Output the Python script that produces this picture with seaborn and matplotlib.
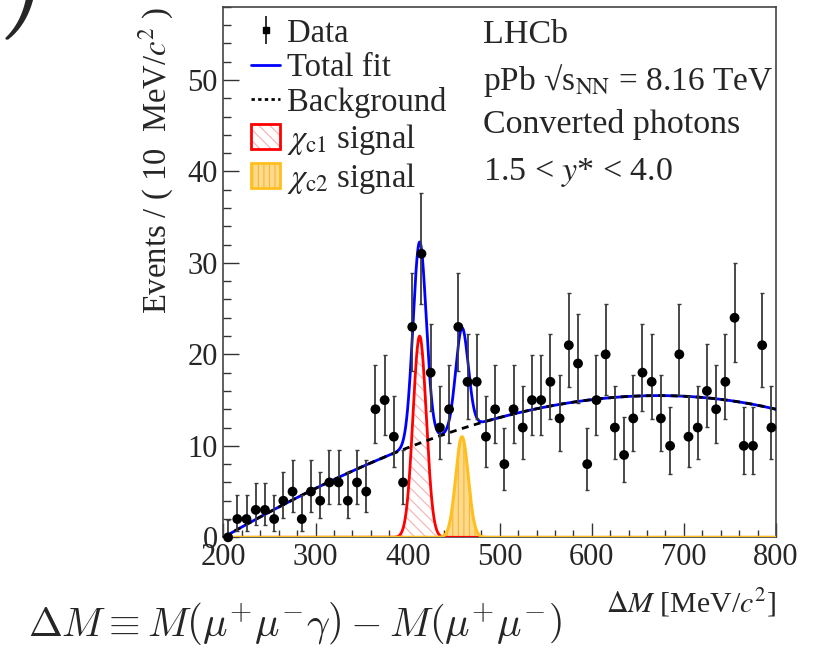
import numpy as np
import pandas as pd
import matplotlib
matplotlib.use("Agg")
import matplotlib.pyplot as plt
import seaborn as sns
from matplotlib.lines import Line2D
from matplotlib.patches import Patch
from matplotlib.legend_handler import HandlerTuple
from matplotlib.ticker import MultipleLocator

# ---------------- data ----------------
BIN_LOW = 200          # MeV/c^2
BIN_WIDTH = 10         # MeV/c^2
counts = [0, 2, 2, 3, 3, 2, 4, 5, 2, 5,
          4, 6, 6, 4, 6, 5, 14, 15, 11, 6,
          23, 31, 18, 12, 14, 23, 17, 17, 11, 14,
          8, 14, 12, 15, 15, 17, 13, 21, 19, 8,
          15, 20, 12, 9, 13, 18, 17, 13, 10, 20,
          11, 12, 16, 14, 17, 24, 10, 10, 21, 12]

# fit model parameters
bkg_coef = [5.73, -0.343, -0.0372]     # powers 1,2,3 of (dM-200)/100
chic1_mean, chic1_sigma, chic1_peak = 413.0, 7.2, 22.0
chic2_mean, chic2_sigma, chic2_peak = 459.0, 6.8, 11.0

x_ticks = [200, 300, 400, 500, 600, 700, 800]
y_ticks = [0, 10, 20, 30, 40, 50]

legend_labels = ["Data", "Total fit", "Background",
                 r"$\chi_{\rm c1}$ signal", r"$\chi_{\rm c2}$ signal"]
info_lines = ["LHCb",
              r"pPb √s$_{\mathrm{NN}}$ = 8.16 TeV",
              "Converted photons",
              r"1.5 < $y$* < 4.0"]

# ---------------- derived ----------------
n = np.array(counts, dtype=float)
centers = BIN_LOW + BIN_WIDTH * (np.arange(len(n)) + 0.5)
err_lo = np.where(n > 0, np.sqrt(np.clip(n - 0.25, 0, None)), 0.0)
err_hi = np.sqrt(n + 0.75) + 1.0
df = pd.DataFrame({"dm": centers, "n": n})

xf = np.linspace(200, 800, 1201)
u = (xf - 200) / 100.0
bkg = bkg_coef[0] * u + bkg_coef[1] * u ** 2 + bkg_coef[2] * u ** 3
s1 = chic1_peak * np.exp(-0.5 * ((xf - chic1_mean) / chic1_sigma) ** 2)
s2 = chic2_peak * np.exp(-0.5 * ((xf - chic2_mean) / chic2_sigma) ** 2)
fit = pd.DataFrame({"dm": xf, "bkg": bkg, "c1": s1, "c2": s2,
                    "total": bkg + s1 + s2})

# ---------------- style ----------------
sns.set_theme(style="ticks")
plt.rcParams["font.family"] = ["Liberation Serif", "DejaVu Serif"]
plt.rcParams["mathtext.fontset"] = "stix"
plt.rcParams["hatch.linewidth"] = 0.8

fig = plt.figure(figsize=(8.25, 6.48), dpi=100)
ax = fig.add_axes([0.2709, 0.1708, 0.6697, 0.8188])

RED = "#ff0000"
ORANGE = "#ffbf1f"

# signal fills
ax.fill_between(xf, s1, facecolor="white", edgecolor="#f7b0b0",
                hatch="\\\\\\", lw=0, zorder=2)
ax.fill_between(xf, s2, facecolor="#fdd98a", edgecolor="#f3b640",
                hatch="|||", lw=0, zorder=2.1)
sns.lineplot(data=fit, x="dm", y="c1", color=RED, lw=2.0, ax=ax,
             estimator=None, sort=False, zorder=3)
sns.lineplot(data=fit, x="dm", y="c2", color=ORANGE, lw=2.2, ax=ax,
             estimator=None, sort=False, zorder=3.2)
sns.lineplot(data=fit, x="dm", y="total", color="#0000ff", lw=2.0, ax=ax,
             estimator=None, sort=False, zorder=4)
sns.lineplot(data=fit, x="dm", y="bkg", color="black", lw=2.0, ax=ax,
             estimator=None, sort=False, zorder=4.5,
             linestyle=(0, (2.5, 2.0)))

ax.errorbar(centers, n, yerr=[err_lo, err_hi], fmt="none",
            ecolor="#3a3a3a", elinewidth=1.3, capsize=1.6, capthick=1.0,
            zorder=5)
sns.scatterplot(data=df, x="dm", y="n", color="black", s=50,
                edgecolor="none", ax=ax, zorder=6, clip_on=False)

# axes
ax.set_xlim(200, 800)
ax.set_ylim(0, 58.0)
ax.set_xticks(x_ticks)
ax.set_yticks(y_ticks)
ax.xaxis.set_minor_locator(MultipleLocator(20))
ax.yaxis.set_minor_locator(MultipleLocator(2))
ax.tick_params(axis="both", which="both", direction="in", top=False,
               right=False, color="#333333", width=1.0)
ax.tick_params(axis="x", which="major", length=10, pad=4, labelsize=22)
ax.tick_params(axis="x", which="minor", length=5)
ax.tick_params(axis="y", which="major", length=11.5, pad=4, labelsize=22)
ax.tick_params(axis="y", which="minor", length=6)
for sp in ax.spines.values():
    sp.set_visible(True)
    sp.set_color("#444444")
    sp.set_linewidth(1.2)

ax.set_ylabel(r"Events / ( 10  MeV/$c^{2}$ )", fontsize=23.5, loc="top")
ax.yaxis.set_label_coords(-0.086, 1.0)
ax.set_xlabel(r"$\Delta M$ [MeV/$c^{2}$]", fontsize=21.5, loc="right")
ax.xaxis.set_label_coords(1.0, -0.093)

# legend
h_data = (Line2D([], [], color="#222222", marker="|", ms=20, mew=1.3, ls=""),
          Line2D([], [], color="black", marker="s", ms=5, ls=""))
h_fit = Line2D([], [], color="#0000ff", lw=2)
h_bkg = Line2D([], [], color="black", lw=2, ls=(0, (1.2, 1.2)))
h_c1 = (Patch(facecolor="white", edgecolor="#f7b0b0", hatch="\\\\\\", lw=0),
        Patch(facecolor="none", edgecolor=RED, lw=2))
h_c2 = (Patch(facecolor="#fdd98a", edgecolor="#f3b640", hatch="|||", lw=0),
        Patch(facecolor="none", edgecolor=ORANGE, lw=2))
ax.legend([h_data, h_fit, h_bkg, h_c1, h_c2], legend_labels,
          loc="upper left", bbox_to_anchor=(0.05, 0.979), frameon=False,
          fontsize=23.5, handlelength=0.9, handleheight=0.8,
          handletextpad=0.2, labelspacing=0.12, borderpad=0,
          borderaxespad=0, handler_map={tuple: HandlerTuple(ndivide=1)})

# info text
info_y = [0.9316, 0.8430, 0.7620, 0.6734]
info_size = [24.5, 24.0, 24.5, 24.5]
for txt, yy, fs in zip(info_lines, info_y, info_size):
    ax.text(0.4697, yy, txt, transform=ax.transAxes, fontsize=fs,
            ha="left", va="baseline")

# slide decorations
fig.text(28 / 825, 0.002,
         r"$\Delta M \equiv M\left(\mu^{+}\mu^{-}\gamma\right) - M\left(\mu^{+}\mu^{-}\right)$",
         fontsize=29.3, math_fontfamily="cm", ha="left", va="bottom")
fig.text(-0.004, 1 - 42 / 648, r"$)$", fontsize=95, math_fontfamily="cm",
         ha="left", va="bottom")

fig.savefig("out.png", dpi=100)
